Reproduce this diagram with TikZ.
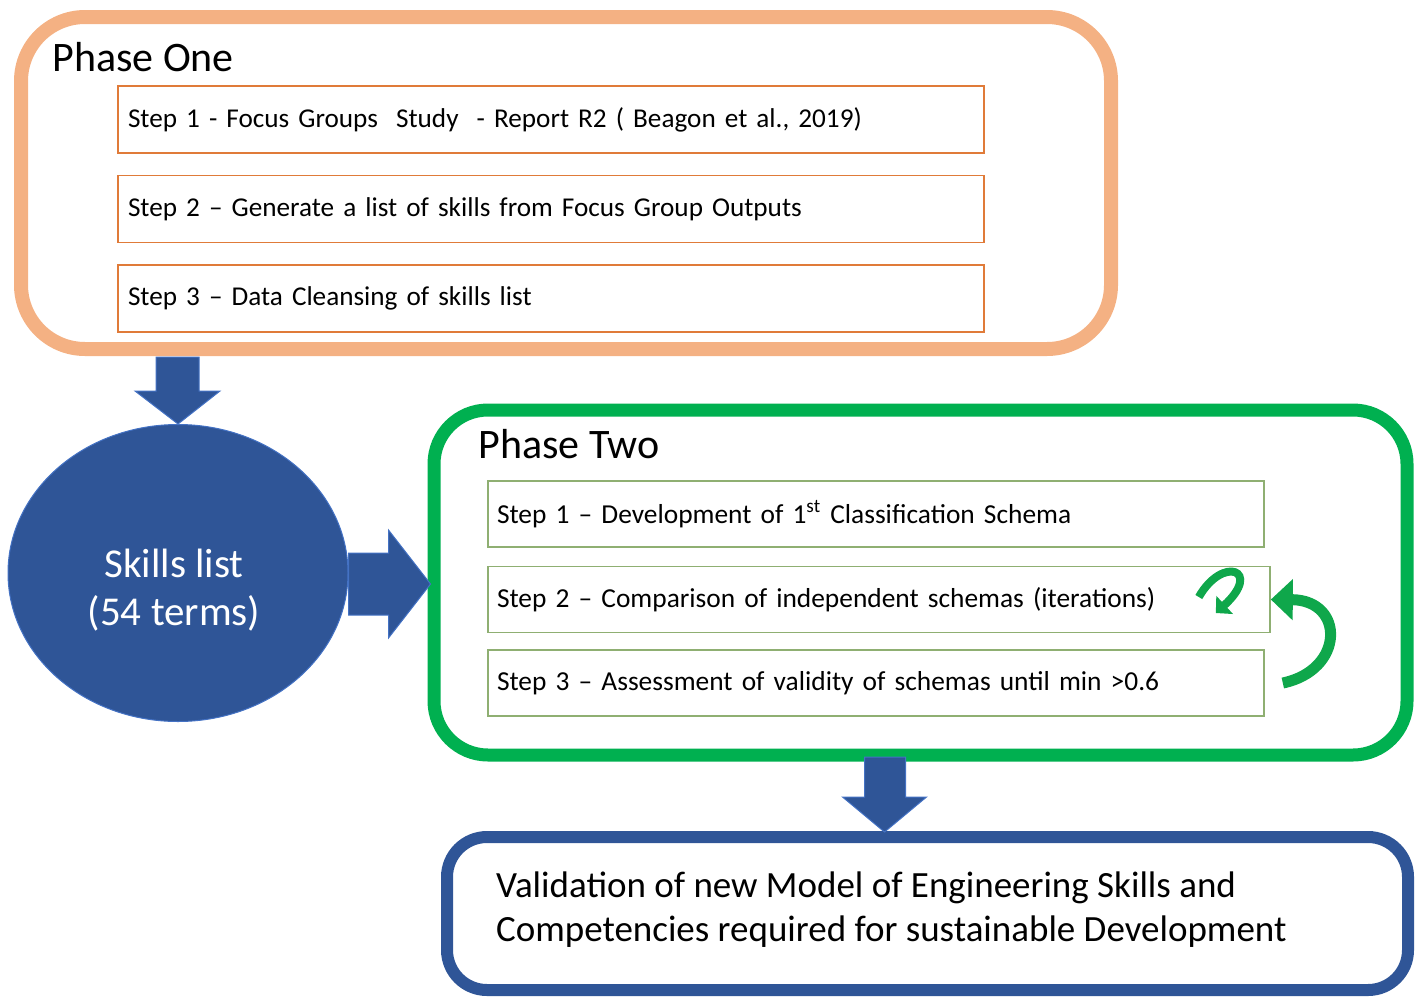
\documentclass[tikz,border=0pt]{standalone}
\usepackage{fontspec}
\setmainfont{Carlito}
\usetikzlibrary{arrows.meta,shapes,positioning,calc}
\definecolor{phaseorange}{HTML}{F4B183}
\definecolor{steporange}{HTML}{E07B39}
\definecolor{phasegreen}{HTML}{00B050}
\definecolor{stepgreen}{HTML}{8FAF72}
\definecolor{loopgreen}{HTML}{0FA74B}
\definecolor{skillblue}{HTML}{2F5597}
\definecolor{edgeblue}{HTML}{4472C4}

\begin{document}
\begin{tikzpicture}[x=0.5pt, y=-0.5pt, node distance=10.5pt and 10.5pt,
    phase/.style={draw, line width=7pt, minimum width=545pt, minimum height=166pt, rounded corners=32pt},
    title/.style={anchor=west, inner sep=0pt, font=\fontsize{21}{24}\selectfont},
    stepone/.style={draw=steporange, line width=0.8pt, minimum height=33.5pt, text width=423pt, inner xsep=5pt, align=left, font=\fontsize{13.6}{15}\selectfont},
    steptwo/.style={draw=stepgreen, line width=0.8pt, minimum height=33pt, text width=379pt, inner xsep=4.5pt, align=left, font=\fontsize{13.7}{15}\selectfont},
    blockarrow/.style={fill=skillblue, draw=edgeblue, line width=0.5pt},
    loop/.style={draw=loopgreen, line width=5.5pt}]
  \useasboundingbox (0,0) rectangle (1423,996);

  % phase one
  \node[phase, draw=phaseorange] (one) at (566,183) {};
  \node[title] (onetitle) at (52,57) {Phase One};
  \node[stepone] (o1) at (551,119.5) {Step 1 - Focus Groups~~Study~~- Report R2 ( Beagon et al., 2019)};
  \node[stepone, below=of o1] (o2) {Step 2 -- Generate a list of skills from Focus Group Outputs};
  \node[stepone, below=of o2] (o3) {Step 3 -- Data Cleansing of skills list};

  % skills list
  \node[ellipse, fill=skillblue, draw=edgeblue, line width=0.5pt, minimum width=170pt, minimum height=148.5pt] (skills) at (178,573) {};
  \node[text=white, align=center, font=\fontsize{20.5}{24}\selectfont] (skillstext) at ($(skills.center)+(-4,17)$) {Skills list\\(54 terms)};

  % phase two
  \node[phase, draw=phasegreen, line width=6.5pt, minimum width=486.5pt, minimum height=172.5pt, rounded corners=27pt] (two) at (920.5,582.5) {};
  \node[title] (twotitle) at (478,444) {Phase Two};
  \node[steptwo] (t1) at (876,514) {Step 1 -- Development of 1\textsuperscript{st} Classification Schema};
  \node[steptwo, text width=382pt] (t2) at (879,599.5) {Step 2 -- Comparison of independent schemas (iterations)};
  \node[steptwo] (t3) at (876,683) {Step 3 -- Assessment of validity of schemas until min >0.6};

  % validation
  \node[draw=skillblue, line width=6pt, minimum width=480.5pt, minimum height=76.5pt, rounded corners=20pt] (valid) at (927.5,913.5) {};
  \node[anchor=west, align=left, font=\fontsize{18.5}{22}\selectfont] (validtext) at (489,910) {Validation of new Model of Engineering Skills and\\Competencies required for sustainable Development};

  % block arrows
  \fill[blockarrow] (skills.north) -- ++(-43,-33) -- ++(21,0) -- ++(0,-34) -- ++(43,0) -- ++(0,34) -- ++(21,0) -- cycle;
  \coordinate (tipright) at ($(skills.east)+(82,11)$);
  \fill[blockarrow] (tipright) -- ++(-42,-54) -- ++(0,23) -- ++(-40,0) -- ++(0,62) -- ++(40,0) -- ++(0,23) -- cycle;
  \coordinate (tipdown) at ($(valid.north)+(-43,1)$);
  \fill[blockarrow] (tipdown) -- ++(-42,-35) -- ++(22,0) -- ++(0,-40) -- ++(41,0) -- ++(0,40) -- ++(21,0) -- cycle;

  % iteration arrows
  \coordinate (iterstart) at ($(t2.east)+(-72,-2.5)$);
  \coordinate (iterend) at ($(t2.east)+(-55,13.5)$);
  \draw[loop, line width=4pt, -{Triangle[length=6pt,width=12pt]}] (iterstart) .. controls +(24,-42) and +(47,-43) .. (iterend);
  \coordinate (loopstart) at ($(t3.east)+(18,0)$);
  \draw[loop, -{Triangle[length=11pt,width=20pt]}] (loopstart) .. controls (1345,670) and (1345,600) .. (t2.east);
\end{tikzpicture}
\end{document}
